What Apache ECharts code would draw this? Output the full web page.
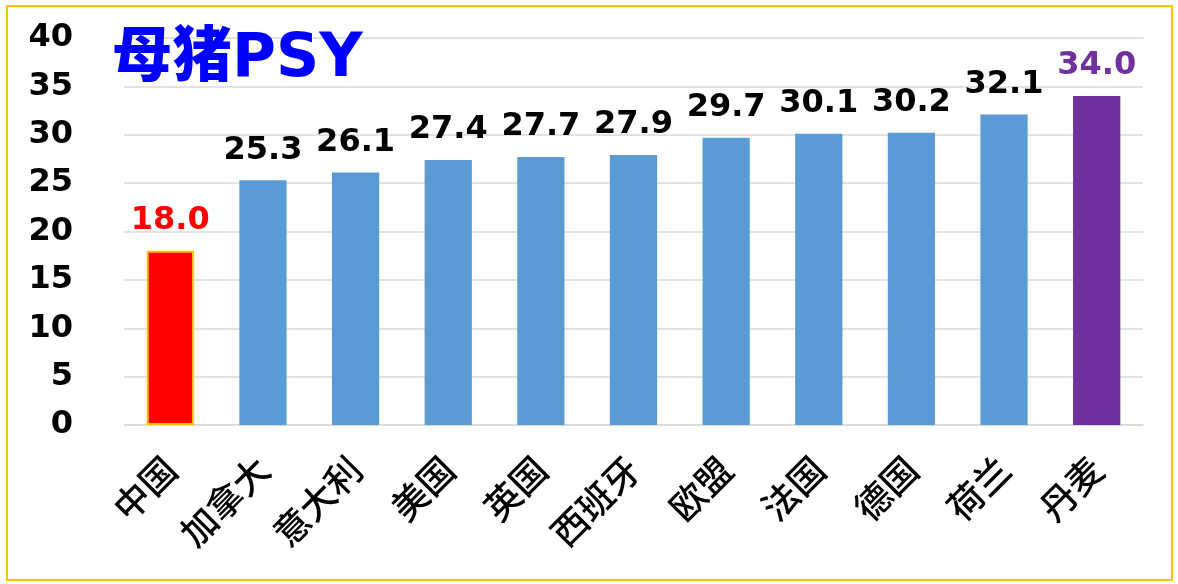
<!DOCTYPE html>
<html>
<head>
<meta charset="utf-8">
<script src="https://cdn.jsdelivr.net/npm/echarts@6/dist/echarts.min.js"></script>
<style>
  html, body { margin: 0; padding: 0; background: #fff; }
  #chart { width: 1178px; height: 584px; }
  #frame {
    position: absolute; left: 6px; top: 5px; width: 1163px; height: 572px;
    border: 2px solid #ffc000; pointer-events: none;
  }
</style>
</head>
<body>
<div id="chart"></div>
<div id="frame"></div>
<script>
// 母猪PSY 各国对比
const categories = ["中国", "加拿大", "意大利", "美国", "英国", "西班牙", "欧盟", "法国", "德国", "荷兰", "丹麦"];
const psyValues = [18.0, 25.3, 26.1, 27.4, 27.7, 27.9, 29.7, 30.1, 30.2, 32.1, 34.0];
const yTicks = [0, 5, 10, 15, 20, 25, 30, 35, 40];

const BAR_BLUE = "#5b9bd5";
const GRID_LINE = "#d9d9d9";
const NUM_FONT = "DejaVu Sans, Liberation Sans, sans-serif";
// 中国红色、丹麦紫色，其余蓝色
const HIGHLIGHT = {
  "中国": { bar: "#ff0000", border: "#ffc000", label: "#ff0000" },
  "丹麦": { bar: "#7030a0", border: null, label: "#7030a0" },
};

const chart = echarts.init(document.getElementById("chart"), null, { renderer: "canvas" });

chart.setOption({
  backgroundColor: "#ffffff",
  animation: false,
  title: {
    text: "母猪PSY",
    left: 107,
    top: 25,
    textStyle: {
      color: "#0000ff",
      fontSize: 60,
      fontWeight: 900,
      fontFamily: "DejaVu Sans, Noto Sans CJK SC, sans-serif",
    },
  },
  grid: { left: 124, right: 35, top: 38, bottom: 159 },
  xAxis: {
    type: "category",
    data: categories,
    axisTick: { show: false },
    axisLine: { lineStyle: { color: GRID_LINE, width: 1.5 } },
    axisLabel: {
      rotate: 45,
      margin: 38,
      color: "#000",
      fontSize: 36,
      fontFamily: "Noto Sans CJK SC, sans-serif",
      fontWeight: 500,
    },
  },
  yAxis: {
    type: "value",
    min: yTicks[0],
    max: yTicks[yTicks.length - 1],
    interval: yTicks[1] - yTicks[0],
    axisLine: { show: false },
    axisTick: { show: false },
    splitLine: { lineStyle: { color: GRID_LINE, width: 1.5 } },
    axisLabel: {
      margin: 51,
      color: "#000",
      fontSize: 32,
      fontWeight: "bold",
      fontFamily: NUM_FONT,
    },
  },
  series: [
    {
      type: "bar",
      barWidth: "51%",
      data: psyValues.map((v, i) => {
        const h = HIGHLIGHT[categories[i]];
        return {
          value: v,
          itemStyle: h
            ? { color: h.bar, borderColor: h.border || h.bar, borderWidth: h.border ? 2 : 0 }
            : { color: BAR_BLUE },
          label: { color: h ? h.label : "#000" },
        };
      }),
      label: {
        show: true,
        position: "top",
        distance: 14,
        formatter: (p) => p.value.toFixed(1),
        fontSize: 32,
        fontWeight: "bold",
        fontFamily: NUM_FONT,
      },
    },
  ],
});
</script>
</body>
</html>
